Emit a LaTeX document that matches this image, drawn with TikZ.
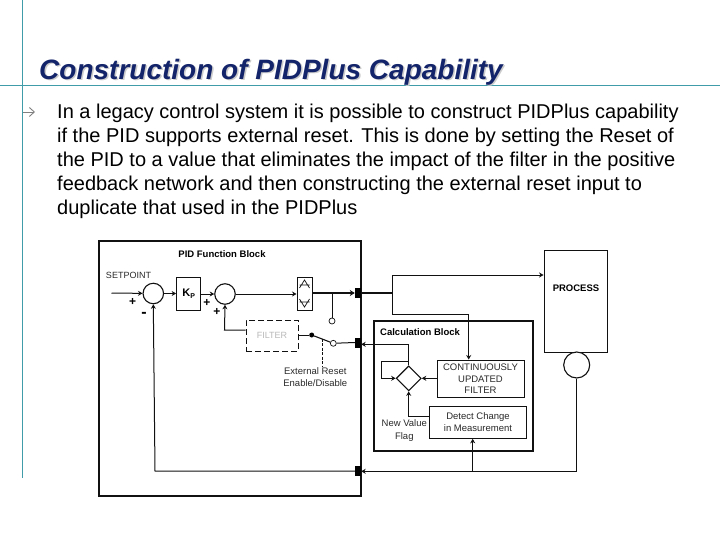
\documentclass[tikz,border=0pt]{standalone}
\usepackage{fontspec}
\setmainfont{Liberation Sans}
\usetikzlibrary{arrows.meta,shapes.geometric}
\definecolor{rule}{HTML}{3F9CA8}
\definecolor{navy}{HTML}{14246A}
\definecolor{ink}{HTML}{111111}
\definecolor{soft}{HTML}{2A2A2A}
\tikzset{
  x=1pt,y=-1pt,
  heavy/.style={draw=ink,line width=2.2pt,inner sep=0pt},
  box/.style={draw=ink,line width=1pt,fill=white,inner sep=0pt},
  port/.style={fill=black,draw=none,minimum width=6pt,minimum height=10pt,inner sep=0pt},
  sumc/.style={circle,draw=ink,line width=1.1pt,fill=white,minimum size=20.5pt,inner sep=0pt},
  wire/.style={draw=ink,line width=1pt},
  flow/.style={wire,-{Stealth[length=4.5pt,width=5pt]}},
  lab/.style={font=\fontsize{9.5}{11}\selectfont,text=soft,inner sep=0pt,align=center},
  blab/.style={font=\fontsize{9.5}{11}\selectfont\bfseries,text=black,inner sep=0pt,align=center},
  sign/.style={font=\fontsize{12}{12}\selectfont\bfseries,inner sep=0pt},
  slide/.style={font=\fontsize{20}{24}\selectfont,text=black,inner sep=0pt,align=left,anchor=north west},
  head/.style={font=\fontsize{28}{30}\selectfont\bfseries\itshape,inner sep=0pt,anchor=base west},
}
\begin{document}
\begin{tikzpicture}
\useasboundingbox (0,0) rectangle (720,540);
% slide frame
\coordinate (hl) at (0,85); \coordinate (hr) at (720,85);
\coordinate (vt) at (22,0); \coordinate (vb) at (22,478);
\draw[rule,line width=0.8pt] (hl) -- (hr);
\draw[rule,line width=0.8pt] (vt) -- (vb);
\node[head,text=gray!40] (titleshadow) at (40.5,81) {Construction of PIDPlus Capability};
\node[head,text=navy] (title) at (39,80) {Construction of PIDPlus Capability};
\coordinate (ba) at (23,112); \coordinate (bb) at (35,112);
\draw[gray,line width=0.9pt,-{Straight Barb[length=5pt,width=9pt]}] (ba) -- (bb);
\node[slide] (body) at (57,104) {In a legacy control system it is possible to construct PIDPlus capability\\
if the PID supports external reset. This is done by setting the Reset of\\
the PID to a value that eliminates the impact of the filter in the positive\\
feedback network and then constructing the external reset input to\\
duplicate that used in the PIDPlus};
% PID block
\node[heavy,minimum width=262pt,minimum height=255pt] (pid) at (230,368.5) {};
\node[blab] (pidt) at (222,253.7) {PID Function Block};
\node[lab,font=\fontsize{9}{11}\selectfont] (sp) at (128.5,275.5) {SETPOINT};
\coordinate (in) at (111.5,293);
\node[sumc] (s1) at (153.3,293.5) {};
\node[box,minimum width=24.3pt,minimum height=33pt,font=\fontsize{11}{11}\selectfont\bfseries] (kp) at (188.8,293.5) {K\raisebox{-1.5pt}{\fontsize{7}{7}\selectfont P}};
\node[sumc] (s2) at (225,294) {};
\node[box,minimum width=15pt,minimum height=33pt] (lim) at (304.5,293.5) {};
\draw[wire,line width=0.7pt] (299.5,288) -- (304.5,280) -- (309.5,288) (299.5,285) -- (309.5,285);
\draw[wire,line width=0.7pt] (299.5,299) -- (304.5,307) -- (309.5,299) (299.5,302) -- (309.5,302);
\node[port] (p1) at (358,293) {};
\node[port] (p2) at (358,342.5) {};
\node[port] (p3) at (358,471) {};
\node[box,dash pattern=on 6pt off 3pt,minimum width=52pt,minimum height=31pt,font=\fontsize{9}{10}\selectfont,text=gray!55] (fil) at (272,335.5) {FILTER};
\node[sign] (m1) at (132.7,301.7) {+};
\node[sign,font=\fontsize{16}{16}\selectfont\bfseries] (m2) at (144,315) {-};
\node[sign] (m3) at (207,302.7) {+};
\node[sign] (m4) at (217,311.7) {+};
\draw[flow] (in) -- (s1);
\draw[flow] (s1) -- (kp);
\draw[flow] (kp.east|-s2) -- (s2);
\draw[flow] (s2) -- (lim.west|-s2);
\draw[ink,line width=1.8pt,-{Stealth[length=5pt,width=6pt]}] (lim.east|-p1) -- (p1.west);
\draw[flow] (p3.west) -- (155,471) -- (s1.south);
\draw[flow] (fil.west|-0,330) -- (224.5,330) -- (s2.south);
% switch
\node[circle,fill=black,minimum size=5pt,inner sep=0pt] (sw1) at (311.7,335) {};
\node[circle,draw=ink,line width=0.7pt,fill=white,minimum size=6pt,inner sep=0pt] (sw2) at (333.3,343.3) {};
\node[circle,draw=ink,line width=0.7pt,fill=white,minimum size=6pt,inner sep=0pt] (sw3) at (332,321) {};
\coordinate (tap) at (332,293);
\coordinate (dt) at (322.3,338.5); \coordinate (db) at (322.3,366);
\draw[wire] (fil.east|-sw1) -- (sw1);
\draw[wire,line width=1.1pt] (sw1) -- (sw2);
\draw[wire] (sw2) -- (p2.west);
\draw[wire] (tap) -- (sw3);
\draw[ink,line width=0.6pt,dash pattern=on 3pt off 1.5pt] (dt) -- (db);
\node[lab] (er) at (315.3,377.5) {External Reset\\[1pt]Enable/Disable};
% right side
\node[box,minimum width=63.3pt,minimum height=102pt] (proc) at (575.7,301) {};
\node[blab] (proct) at (576,288.7) {PROCESS};
\node[circle,draw=ink,line width=1.1pt,fill=white,minimum size=26pt,inner sep=0pt] (sens) at (576.7,365) {};
\node[heavy,minimum width=158.7pt,minimum height=129.7pt] (calc) at (453.7,386.2) {};
\node[blab,anchor=west] (calct) at (380,332) {Calculation Block};
\node[box,minimum width=87pt,minimum height=37.7pt,lab,draw=ink] (cont) at (480.5,378.9) {CONTINUOUSLY\\[0.5pt]UPDATED\\[0.5pt]FILTER};
\node[box,minimum width=97.4pt,minimum height=31.6pt,lab,draw=ink] (det) at (478,422.5) {Detect Change\\[1pt]in Measurement};
\node[diamond,draw=ink,line width=1.1pt,fill=white,minimum size=25pt,inner sep=0pt,aspect=1] (dia) at (408.7,378.3) {};
\node[lab] (nvf) at (404.3,430.5) {New Value\\[1.5pt]Flag};
\coordinate (j1) at (392.3,293);
\coordinate (j2) at (392.3,275);
\coordinate (j3) at (392.3,314);
\coordinate (j4) at (468.7,314);
\coordinate (j5) at (408.7,344.3);
\coordinate (j6) at (408.7,361);
\coordinate (j7) at (381,361);
\coordinate (j8) at (381,378.3);
\coordinate (j9) at (408.7,416);
\coordinate (j10) at (576.7,471.3);
\coordinate (j11) at (472.7,471.3);
\draw[wire,line width=1.6pt] (p1.east) -- (j1);
\draw[flow] (j1) -- (j2) -- (proc.west|-j2);
\draw[flow] (j1) -- (j3) -- (j4) -- (cont.north-|j4);
\draw[flow] (dia.north) -- (j5) -- (p2.east|-j5);
\draw[flow] (j6) -- (j7) -- (j8) -- (dia.west);
\draw[flow] (cont.west|-dia) -- (dia.east);
\draw[flow] (det.west|-j9) -- (j9) -- (dia.south);
\draw[flow] (sens.south) -- (j10) -- (p3.east|-j10);
\draw[flow] (j11) -- (det.south-|j11);
\end{tikzpicture}
\end{document}
